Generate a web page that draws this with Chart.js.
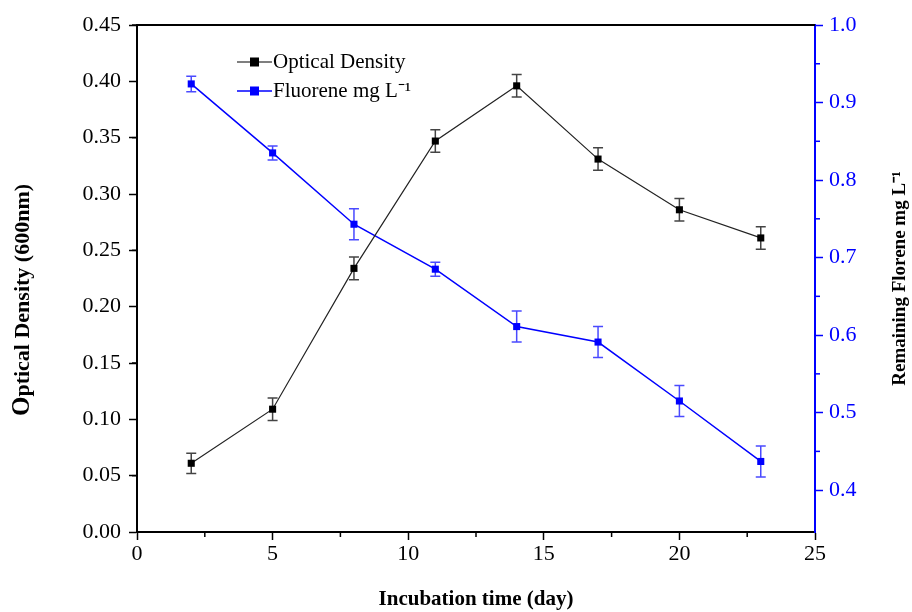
<!DOCTYPE html>
<html lang="en">
<head>
    <meta charset="UTF-8">
    <title>Optical Density and Fluorene</title>
    <script src="https://cdn.jsdelivr.net/npm/chart.js"></script>
    <style>
        body {
            margin: 0;
            background: #fff;
        }
        #wrap {
            width: 912px;
            height: 612px;
        }
    </style>
</head>
<body>
    <div id="wrap"><canvas id="odChart"></canvas></div>

    <script>
        // values
        const days = [2, 5, 8, 11, 14, 17, 20, 23];
        const odValues = [0.061, 0.109, 0.234, 0.347, 0.396, 0.331, 0.286, 0.261];
        const odErrors = [0.009, 0.010, 0.010, 0.010, 0.010, 0.010, 0.010, 0.010];
        const fluoreneValues = [0.924, 0.835, 0.743, 0.685, 0.611, 0.591, 0.515, 0.437];
        const fluoreneErrors = [0.010, 0.009, 0.020, 0.009, 0.020, 0.020, 0.020, 0.020];
        const rightTicks = [0.4, 0.45, 0.5, 0.55, 0.6, 0.65, 0.7, 0.75, 0.8, 0.85, 0.9, 0.95, 1.0];

        const BLUE = '#0000ff';
        const FONT = '"Liberation Serif", "Times New Roman", serif';

        function toPoints(vals) {
            return days.map((d, i) => ({ x: d, y: vals[i] }));
        }

        // vertical error bars, drawn under the markers
        const errorBars = {
            id: 'errorBars',
            beforeDatasetsDraw(chart) {
                const ctx = chart.ctx;
                const errs = [odErrors, fluoreneErrors];
                const cols = ['#444', '#4a4aff'];
                chart.data.datasets.forEach((ds, di) => {
                    const meta = chart.getDatasetMeta(di);
                    const yScale = chart.scales[ds.yAxisID];
                    ctx.save();
                    ctx.strokeStyle = cols[di];
                    ctx.lineWidth = 1.5;
                    meta.data.forEach((pt, i) => {
                        const v = ds.data[i].y;
                        const top = yScale.getPixelForValue(v + errs[di][i]);
                        const bot = yScale.getPixelForValue(v - errs[di][i]);
                        ctx.beginPath();
                        ctx.moveTo(pt.x, top); ctx.lineTo(pt.x, bot);
                        ctx.moveTo(pt.x - 5, top); ctx.lineTo(pt.x + 5, top);
                        ctx.moveTo(pt.x - 5, bot); ctx.lineTo(pt.x + 5, bot);
                        ctx.stroke();
                    });
                    ctx.restore();
                });
            }
        };

        // minor ticks, top frame line, axis titles and legend
        const decorations = {
            id: 'decorations',
            afterDraw(chart) {
                const ctx = chart.ctx;
                const area = chart.chartArea;
                ctx.save();

                // minor ticks (odd tick indices)
                const minor = (scale, color, dir) => {
                    ctx.strokeStyle = color;
                    ctx.lineWidth = 1.5;
                    scale.ticks.forEach((t, i) => {
                        if (i % 2 === 0) return;
                        const p = scale.getPixelForValue(t.value);
                        ctx.beginPath();
                        if (dir === 'x') {
                            ctx.moveTo(p, area.bottom); ctx.lineTo(p, area.bottom + 5);
                        } else if (dir === 'left') {
                            ctx.moveTo(area.left, p); ctx.lineTo(area.left - 5, p);
                        } else {
                            ctx.moveTo(area.right, p); ctx.lineTo(area.right + 5, p);
                        }
                        ctx.stroke();
                    });
                };
                minor(chart.scales.x, '#000', 'x');
                minor(chart.scales.y, '#000', 'left');
                minor(chart.scales.y1, BLUE, 'right');

                // top frame
                ctx.strokeStyle = '#000';
                ctx.lineWidth = 2;
                ctx.beginPath();
                ctx.moveTo(area.left, area.top);
                ctx.lineTo(area.right, area.top);
                ctx.stroke();

                ctx.fillStyle = '#000';
                ctx.textBaseline = 'middle';

                // left axis title with a larger initial "O"
                ctx.translate(23, 300);
                ctx.rotate(-Math.PI / 2);
                const bigFont = 'bold 25px ' + FONT;
                const restFont = 'bold 22px ' + FONT;
                ctx.font = bigFont;
                const wO = ctx.measureText('O').width;
                ctx.font = restFont;
                const rest = 'ptical Density (600nm)';
                const wRest = ctx.measureText(rest).width;
                const x0 = -(wO + wRest) / 2;
                ctx.textAlign = 'left';
                ctx.font = bigFont;
                ctx.fillText('O', x0, 0);
                ctx.font = restFont;
                ctx.fillText(rest, x0 + wO, 0);
                ctx.setTransform(1, 0, 0, 1, 0, 0);

                // right axis title, reading bottom to top
                ctx.translate(900, (area.top + area.bottom) / 2);
                ctx.rotate(-Math.PI / 2);
                ctx.textAlign = 'center';
                ctx.font = 'bold 19px ' + FONT;
                ctx.fillText('Remaining Florene mg L\u207B\u00B9', 0, 0);
                ctx.setTransform(1, 0, 0, 1, 0, 0);

                // legend
                const items = [
                    { text: 'Optical Density', line: '#555', mark: '#000' },
                    { text: 'Fluorene mg L\u207B\u00B9', line: BLUE, mark: BLUE }
                ];
                const lx = area.left + 100;
                items.forEach((it, i) => {
                    const ly = area.top + 37 + i * 29;
                    ctx.strokeStyle = it.line;
                    ctx.lineWidth = 1.5;
                    ctx.beginPath();
                    ctx.moveTo(lx, ly); ctx.lineTo(lx + 35, ly);
                    ctx.stroke();
                    ctx.fillStyle = it.mark;
                    ctx.fillRect(lx + 13, ly - 4.5, 9, 9);
                    ctx.fillStyle = '#000';
                    ctx.font = '21px ' + FONT;
                    ctx.textAlign = 'left';
                    ctx.textBaseline = 'middle';
                    ctx.fillText(it.text, lx + 36, ly);
                });
                ctx.restore();
            }
        };

        new Chart(document.getElementById('odChart'), {
            type: 'line',
            data: {
                datasets: [{
                    label: 'Optical Density',
                    data: toPoints(odValues),
                    yAxisID: 'y',
                    borderColor: '#222',
                    borderWidth: 1.2,
                    backgroundColor: '#000',
                    pointStyle: 'rect',
                    pointRadius: 5,
                    pointBorderWidth: 0
                }, {
                    label: 'Fluorene mg L-1',
                    data: toPoints(fluoreneValues),
                    yAxisID: 'y1',
                    borderColor: BLUE,
                    borderWidth: 1.5,
                    backgroundColor: BLUE,
                    pointStyle: 'rect',
                    pointRadius: 5,
                    pointBorderWidth: 0
                }]
            },
            options: {
                responsive: true,
                maintainAspectRatio: false,
                animation: false,
                layout: { padding: { top: 25, left: 0, right: 0, bottom: 0 } },
                plugins: {
                    legend: { display: false },
                    tooltip: { enabled: false }
                },
                scales: {
                    x: {
                        type: 'linear',
                        min: 0,
                        max: 25,
                        afterFit(scale) { scale.height = 80; },
                        border: { color: '#000', width: 2 },
                        grid: {
                            drawOnChartArea: false,
                            tickLength: 8,
                            tickWidth: 1.5,
                            tickColor: c => (c.index % 2 ? 'transparent' : '#000')
                        },
                        ticks: {
                            stepSize: 2.5,
                            color: '#000',
                            font: { family: FONT, size: 22 },
                            padding: 1,
                            callback: (v, i) => (i % 2 ? '' : v)
                        },
                        title: {
                            display: true,
                            text: 'Incubation time (day)',
                            color: '#000',
                            font: { family: FONT, size: 21, weight: 'bold' },
                            padding: { top: 4, bottom: 0 }
                        }
                    },
                    y: {
                        position: 'left',
                        min: 0,
                        max: 0.45,
                        afterFit(scale) { scale.width = 137; },
                        border: { color: '#000', width: 2 },
                        grid: {
                            drawOnChartArea: false,
                            tickLength: 8,
                            tickWidth: 1.5,
                            tickColor: c => (c.index % 2 ? 'transparent' : '#000')
                        },
                        ticks: {
                            stepSize: 0.025,
                            color: '#000',
                            font: { family: FONT, size: 22 },
                            padding: 8,
                            callback: (v, i) => (i % 2 ? '' : v.toFixed(2))
                        }
                    },
                    y1: {
                        position: 'right',
                        min: 0.346,
                        max: 1.0,
                        afterBuildTicks(scale) {
                            scale.ticks = rightTicks.map(v => ({ value: v }));
                        },
                        afterFit(scale) { scale.width = 97; },
                        border: { color: BLUE, width: 2 },
                        grid: {
                            drawOnChartArea: false,
                            tickLength: 8,
                            tickWidth: 1.5,
                            tickColor: c => (c.index % 2 ? 'transparent' : BLUE)
                        },
                        ticks: {
                            color: BLUE,
                            font: { family: FONT, size: 22 },
                            padding: 6,
                            callback: (v, i) => (i % 2 ? '' : v.toFixed(1))
                        }
                    }
                }
            },
            plugins: [errorBars, decorations]
        });
    </script>
</body>
</html>
